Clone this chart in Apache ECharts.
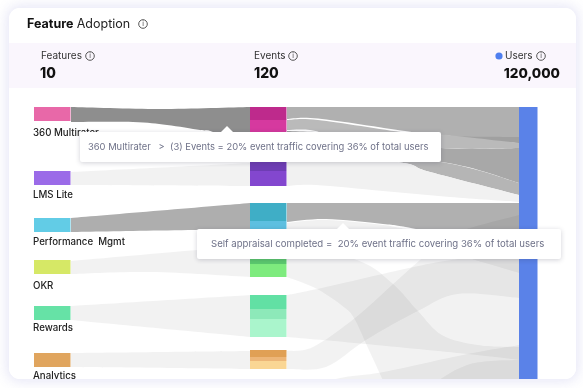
<!DOCTYPE html>
<html><head><meta charset="utf-8">
<style>
html,body{margin:0;padding:0;background:#fff;width:583px;height:388px;overflow:hidden}
#card{position:absolute;left:9px;top:8px;width:567px;height:371px;border-radius:11px;background:#fff;overflow:hidden}
#shadow{position:absolute;left:9px;top:8px;width:567px;height:371px;border-radius:11px;box-shadow:0 0 12px 3px rgba(120,120,210,.17)}
#chart{position:absolute;left:-9px;top:-8px;width:583px;height:388px}
</style>
<script src="https://cdn.jsdelivr.net/npm/echarts@6/dist/echarts.min.js"></script>
</head><body>
<div id="shadow"></div>
<div id="card"><div id="chart"></div></div>
<script>
// ---- text
const title = ['Feature', 'Adoption'];
const kpiLabels = ['Features', 'Events', 'Users'];
const kpiValues = ['10', '120', '120,000'];
const featureNames = ['360 Multirater', 'LMS Lite', 'Performance  Mgmt', 'OKR', 'Rewards', 'Analytics'];
const tooltipFeature = '360 Multirater   >  (3) Events = 20% event traffic covering 36% of total users';
const tooltipEvent = 'Self appraisal completed =  20% event traffic covering 36% of total users';

// ---- node extents, read on the chart's vertical scale
const featureSpans = [[107,121],[171,185],[218,232],[260,274],[306,320],[353,367]];
const eventSpans = [[107,120],[120,133],[133,146],[146,162],[162,171],[171,186],[203,221],[221,229],[229,246],[246,264],[264,277],[295,309],[309,319],[319,337],[350,357],[357,361],[361,369]];
const userSpans = [[107,420]];

// ---- flow edges, each as [upper edge, lower edge] in scale units
const flowMultirater = [[[71,107],[160,109],[250,107]], [[71,122],[133,122],[167,125],[200,130],[213,132],[250,148]]];
const flowLms = [[[71,172],[250,163]], [[71,185],[250,186]]];
const flowPerformance = [[[71,218],[250,203]], [[71,232],[250,229]]];
const flowOkr = [[[71,261],[197,250],[250,246]], [[71,274],[150,272],[250,277]]];
const flowRewards = [[[71,306],[250,295]], [[71,320],[250,337]]];
const flowAnalytics = [[[71,353],[250,351]], [[71,367],[250,369]]];

const usersA = [[[287,107],[519,107]], [[287,119],[318,118.5],[405,131],[441,135],[519,143]]];
const usersB = [[[287,120],[318,120],[405,132.5],[441,134.5],[519,143]], [[287,130],[310,130],[340,136],[441,148],[519,148]]];
const usersC = [[[287,136],[441,148],[519,148]], [[287,150],[441,162],[519,183]]];
const usersWedge = [[[287,131],[441,136],[519,137]], [[287,133],[441,139],[519,143]]];
const usersD = [[[287,145],[441,162],[519,183]], [[287,150],[398,162],[430,172],[519,195]]];
const usersLms = [[[287,150],[398,162],[430,172],[519,195]], [[287,186],[316,185],[383,191],[450,197],[519,202]]];
const usersPerformance = [[[287,203],[519,203]], [[287,222],[326,219],[383,224],[416,229],[519,250]]];
const usersPerformance2 = [[[287,223],[326,220],[383,225],[416,230],[519,240]], [[287,245],[400,245],[519,245]]];
const usersHidden = [[[287,235],[420,235],[519,232]], [[287,240],[420,245],[478,261],[519,273]]];
const usersOkr = [[[287,246],[357,260],[392,283],[418,311],[442,335],[478,345],[519,347]], [[287,277],[317,289],[345,308],[355,320],[368,348],[385,385],[400,420],[519,430]]];
const usersRewards = [[[287,295],[317,289],[418,266],[458,259],[519,250]], [[287,337],[365,344],[467,354],[519,360]]];
const usersAnalytics = [[[287,351],[313,347],[355,318],[392,285],[420,260],[450,235],[519,215]], [[287,369],[326,367],[366,340],[418,311],[458,294],[519,298]]];
const usersLowerA = [[[287,392],[340,378],[383,372],[467,354],[519,345]], [[287,430],[519,430]]];
const usersLowerB = [[[415,400],[442,378],[467,365],[490,361],[519,360]], [[415,430],[519,430]]];

// ---- styles
const columnX = {feature:[34,70.5], event:[250,286.5], user:[519,537.5]};
const featureColors = ['#E868A8','#9B6BE8','#62CCE6','#D6E866','#66E2A6','#E0A55E'];
const eventColors = ['#BE2A8C','#D6399F','#E56AB5','#7F4DCC','#6E3DB4','#8347CF','#3FAEC6','#5DBFE0','#8DD7EA','#5CCB6E','#7EEB7E','#62E0A4','#8DE9B9','#AAF5CC','#E0A055','#EDB678','#FAD694'];
const userColor = '#5A82E8';
const LIGHT = 'rgba(0,0,0,0.052)';
const bands = [
 [flowMultirater,'#8e8e8e'],[flowLms,LIGHT],[flowPerformance,'#aeaeae'],[flowOkr,LIGHT],[flowRewards,LIGHT],[flowAnalytics,LIGHT],
 [usersA,'#b0b0b0'],[usersC,'#a8a8a8'],[usersWedge,'#a0a0a0'],[usersB,'#bababa'],[usersD,'#b5b5b5'],[usersLms,'#f1f1f1'],
 [usersPerformance2,'#f1f1f1'],[usersPerformance,'#b0b0b0'],
 [usersOkr,LIGHT],[usersRewards,LIGHT],[usersAnalytics,LIGHT],[usersHidden,LIGHT],[usersLowerA,LIGHT],[usersLowerB,LIGHT]
];
const rects = [];
featureSpans.forEach((s,i)=>rects.push([columnX.feature[0],columnX.feature[1],s[0],s[1],featureColors[i]]));
eventSpans.forEach((s,i)=>rects.push([columnX.event[0],columnX.event[1],s[0],s[1],eventColors[i]]));
userSpans.forEach(s=>rects.push([columnX.user[0],columnX.user[1],s[0],s[1],userColor]));

function smoothEdge(pts, forward){
  // Catmull-Rom through the edge points, as cubic path pieces
  const p = forward ? pts : pts.slice().reverse();
  let d = '';
  for(let i=0;i<p.length-1;i++){
    const p0=p[Math.max(i-1,0)],p1=p[i],p2=p[i+1],p3=p[Math.min(i+2,p.length-1)];
    const c1=[p1[0]+(p2[0]-p0[0])/6,p1[1]+(p2[1]-p0[1])/6], c2=[p2[0]-(p3[0]-p1[0])/6,p2[1]-(p3[1]-p1[1])/6];
    d+=`C${c1[0]} ${c1[1]} ${c2[0]} ${c2[1]} ${p2[0]} ${p2[1]}`;
  }
  return d;
}
function renderBand(params, api){
  const [edge, fill] = bands[params.dataIndex];
  const top = edge[0].map(p=>api.coord(p)), bot = edge[1].map(p=>api.coord(p));
  const lastBot = bot[bot.length-1];
  const d = `M${top[0][0]} ${top[0][1]}`+smoothEdge(top,true)+`L${lastBot[0]} ${lastBot[1]}`+smoothEdge(bot,false)+'Z';
  return {type:'path',shape:{pathData:d},style:{fill:fill}};
}
function renderRect(params, api){
  const a = api.coord([api.value(0),api.value(2)]), b = api.coord([api.value(1),api.value(3)]);
  return {type:'rect',shape:{x:a[0],y:a[1],width:b[0]-a[0],height:b[1]-a[1]},style:{fill:rects[params.dataIndex][4]}};
}

const FONT = 'Inter, "Noto Sans", sans-serif';
function txt(x,y,text,size,weight,color,align){
  return {type:'text',x:x,y:y,z:50,style:{text:text,fontSize:size,fontWeight:weight||400,fontFamily:FONT,fill:color||'#2a2a35',align:align||'left',verticalAlign:'middle'}};
}
function info(x,y){
  return [
    {type:'circle',z:50,shape:{cx:x,cy:y,r:4.3},style:{fill:'none',stroke:'#444',lineWidth:0.9}},
    {type:'text',x:x,y:y,z:50,style:{text:'i',fontSize:7,fontFamily:FONT,fill:'#444',align:'center',verticalAlign:'middle'}}
  ];
}
function tip(x0,x1,y0,y1,ax,text,tx,size){
  return [
    {type:'polygon',z:60,shape:{points:[[ax-7,y0+1],[ax,y0-6],[ax+7,y0+1]]},style:{fill:'#fff'}},
    {type:'rect',z:59,shape:{x:x0,y:y0,width:x1-x0,height:y1-y0,r:2},style:{fill:'#fff',shadowBlur:5,shadowColor:'rgba(40,40,70,0.22)',shadowOffsetY:1}},
    {type:'text',z:61,x:tx,y:(y0+y1)/2,style:{text:text,fontSize:size,fontFamily:FONT,fill:'#6e7188',align:'left',verticalAlign:'middle'}}
  ];
}
const labelY = [133,195,242,286,328,376];
const graphics = [
  {type:'rect',z:1,shape:{x:0,y:43,width:583,height:45},style:{fill:'#FAF6FD'}},
  {type:'text',x:27,y:24,z:50,style:{rich:{b:{fontSize:12.5,fontWeight:700,fontFamily:FONT,fill:'#111'},n:{fontSize:12.5,fontFamily:FONT,fill:'#222'}},text:`{b|${title[0]}} {n|${title[1]}}`,verticalAlign:'middle'}},
  ...info(143,24),
  txt(41,56,kpiLabels[0],10,400,'#333'),
  ...info(90,56),
  txt(40,74,kpiValues[0],14,800,'#111'),
  txt(254,56,kpiLabels[1],10,400,'#333'),
  ...info(293,56),
  txt(254,74,kpiValues[1],14,800,'#111'),
  {type:'circle',z:50,shape:{cx:499,cy:56,r:3.6},style:{fill:'#4F7FEF'}},
  txt(505,56,kpiLabels[2],10,400,'#333'),
  ...info(541,56),
  txt(560,74,kpiValues[2],13.6,800,'#111','right'),
  ...featureNames.map((n,i)=>txt(33,labelY[i],n,9.7,500,'#222')),
  ...tip(80,441,132,162,227,tooltipFeature,88,9.4),
  ...tip(197,561,229,259,343,tooltipEvent,211,9.6)
];

const chart = echarts.init(document.getElementById('chart'),null,{renderer:'canvas'});
chart.setOption({
  animation:false,
  backgroundColor:'transparent',
  grid:{left:0,right:0,top:0,bottom:0},
  xAxis:{type:'value',min:0,max:583,show:false},
  yAxis:{type:'value',min:0,max:388,inverse:true,show:false},
  tooltip:{show:false},
  graphic:graphics,
  series:[
    {type:'custom',silent:true,z:2,clip:false,renderItem:renderBand,data:bands.map((b,i)=>[b[0][0][0][0],b[0][0][0][1]])},
    {type:'custom',silent:true,z:3,clip:false,renderItem:renderRect,encode:{x:[0,1],y:[2,3]},data:rects.map(r=>r.slice(0,4))}
  ]
});
</script>
</body></html>
